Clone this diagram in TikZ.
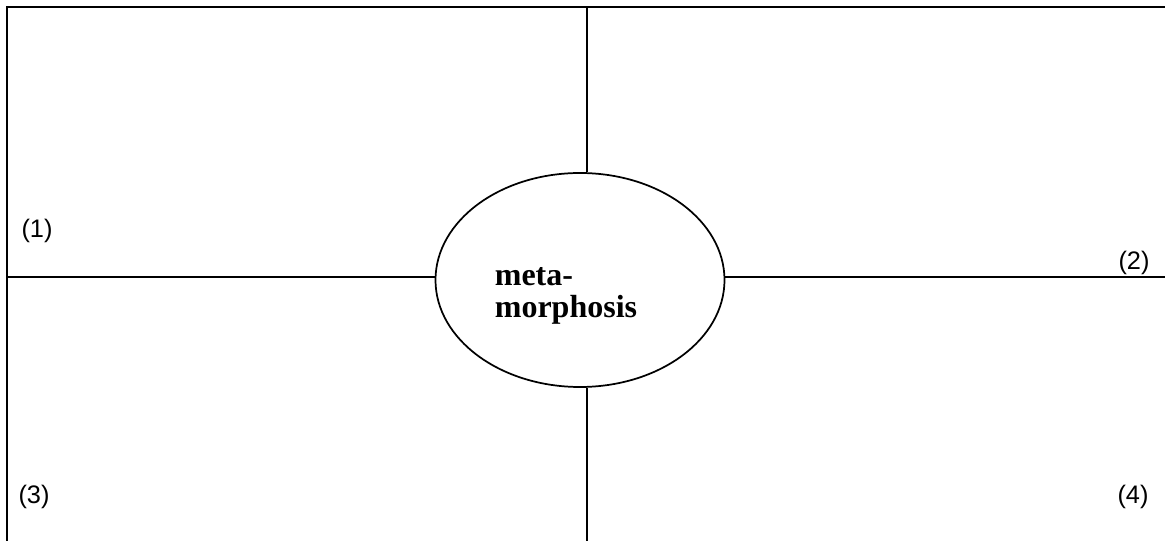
\documentclass[tikz,border=0pt]{standalone}
\usepackage{fontspec}
\setmainfont{Liberation Serif}
\newfontfamily\labelfont{Liberation Sans}
\usetikzlibrary{shapes.geometric}

\begin{document}
\begin{tikzpicture}[
x=0.75pt, y=-0.75pt,
frame/.style={line width=1.7pt},
cross/.style={line width=1.3pt},
hubshape/.style={draw, ellipse, line width=1.3pt, minimum width=216.75pt, minimum height=160.5pt, inner sep=0pt},
hubtext/.style={font=\fontsize{24}{24}\selectfont\bfseries, align=left, inner sep=0pt},
quad/.style={font=\labelfont\fontsize{19}{21}\selectfont, inner sep=0pt} ]

\useasboundingbox (0,0) rectangle (1165,541);

\coordinate (TL) at (7,7);
\coordinate (TR) at (1165,7);
\coordinate (BL) at (7,541);
\coordinate (L) at (7,277);
\coordinate (R) at (1165,277);
\coordinate (T) at (587,7);
\coordinate (B) at (587,541);

\node[hubshape] (hub) at (580,280) {};

\node[hubtext] (word) at (566,296) {meta-\\morphosis};

\node[quad] (q1) at (37,231) {(1)};

\node[quad] (q2) at (1134,263) {(2)};

\node[quad] (q3) at (34,497) {(3)};

\node[quad] (q4) at (1133,497) {(4)};

\draw[frame] (BL) -- (TL) -- (TR);

\draw[cross] (L) -- (L -| hub.west);

\draw[cross] (hub.east |- R) -- (R);

\draw[cross] (T) -- (T |- hub.north);

\draw[cross] (T |- hub.south) -- (B);

\end{tikzpicture}
\end{document}
